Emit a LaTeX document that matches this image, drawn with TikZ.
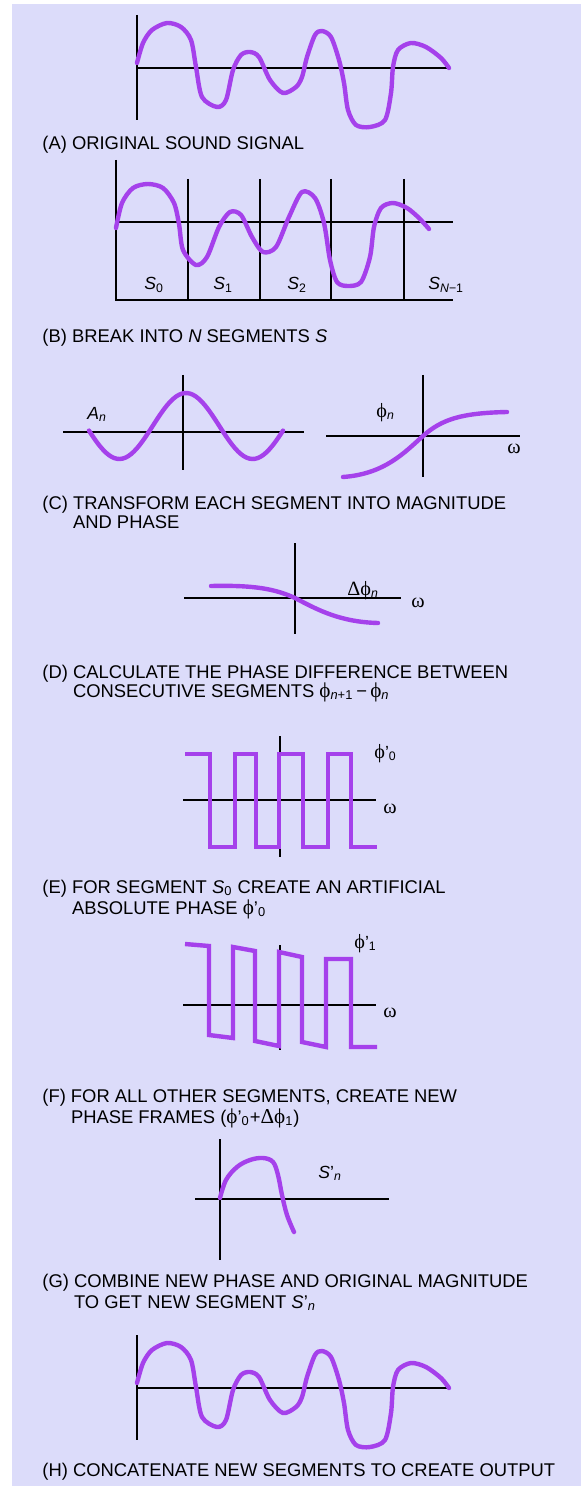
\documentclass[tikz,border=0pt]{standalone}
\usepackage{fontspec}
\setmainfont{Liberation Sans}
\newfontfamily\grk[Scale=1.15]{Liberation Serif}
\definecolor{lavender}{RGB}{220,220,250}
\definecolor{wavepurple}{RGB}{165,65,235}

\begin{document}
\begin{tikzpicture}[x=0.5pt, y=-0.5pt,
  axis/.style={line width=0.8pt, black},
  wave/.style={line width=2.2pt, wavepurple, line cap=round, line join=round},
  sqwave/.style={line width=2.2pt, wavepurple},
  captext/.style={anchor=base west, inner sep=0pt, font=\fontsize{9.2}{11}\selectfont},
  lbl/.style={anchor=base west, inner sep=0pt, font=\fontsize{8.8}{10}\selectfont}]
% background
\fill[white] (0,0) rectangle (581,1486);
\fill[lavender] (12,4) rectangle (581,1486);
\useasboundingbox (0,0) rectangle (581,1486);

% (A) and (H): the same signal
\foreach \dy in {0,1320}{
  \begin{scope}[shift={(0,\dy)}]
    \draw[axis] (137,15) -- (137,120);
    \draw[axis] (137,68) -- (449,68);
    \draw[wave] plot[smooth, tension=0.5] coordinates {(137,63) (143,43) (152,30) (167,23) (181,27) (191,40) (196,67) (202,97) (217,107) (226,100) (233,70) (241,55) (250,52) (259,57) (270,80) (283,93) (296,87) (302,77) (307,57) (315,35) (322,31) (331,37) (339,60) (344,83) (348,110) (356,125) (370,127) (385,120) (391,93) (393,67) (398,50) (411,43) (426,47) (441,58) (449,68)};
  \end{scope}}
\node[captext] (capA) at (42,150) {(A) ORIGINAL SOUND SIGNAL};

% (B) segments
\draw[axis] (116,160) -- (116,300) -- (453,300);
\draw[axis] (116,222) -- (453,222);
\foreach \x in {188,260,331,404} \draw[axis] (\x,179) -- (\x,300);
\draw[wave] plot[smooth, tension=0.5] coordinates {(116,228) (122,203) (133,188) (148,184) (163,188) (174,203) (179,224) (183,250) (196,265) (207,257) (219,227) (230,212) (241,215) (252,237) (263,252) (276,247) (289,217) (302,192) (315,198) (324,223) (330,260) (337,282) (348,286) (361,282) (370,257) (374,227) (381,208) (393,203) (407,208) (419,218) (429,229)};
\node[lbl] (s0) at (144,290) {\textit{S}\textsubscript{0}};
\node[lbl] (s1) at (213,290) {\textit{S}\textsubscript{1}};
\node[lbl] (s2) at (287,290) {\textit{S}\textsubscript{2}};
\node[lbl] (sN) at (428,290) {\textit{S}\textsubscript{\textit{N}−1}};
\node[captext] (capB) at (42,343) {(B) BREAK INTO \textit{N} SEGMENTS \textit{S}};

% (C) magnitude and phase
\draw[axis] (63,432) -- (304,432);
\draw[axis] (183,375) -- (183,470);
\draw[wave] plot[domain=-262:262, samples=70, smooth] ({186+\x/2.7},{426-33*cos(\x)});
\node[lbl] (an) at (87,420) {\textit{A}\textsubscript{\textit{n}}};
\draw[axis] (326,436) -- (520,436);
\draw[axis] (423,375) -- (423,477);
\draw[wave] (343,477) .. controls (385,474) and (405,452) .. (423,436) .. controls (442,419) and (462,413) .. (507,412);
\node[lbl] (phin) at (376,418) {{\grk ϕ}\textsubscript{\textit{n}}};
\node[lbl] (omC) at (507,453) {\grk ω};
\node[captext] (capC) at (42,509) {(C) TRANSFORM EACH SEGMENT INTO MAGNITUDE};
\node[captext] (capC2) at (42,528) {\phantom{(C) }AND PHASE};

% (D) phase difference
\draw[axis] (184,598) -- (401,598);
\draw[axis] (295,543) -- (295,634);
\draw[wave] (211,586) .. controls (255,585) and (275,589) .. (295,598) .. controls (318,610) and (340,622) .. (378,623);
\node[lbl] (dphi) at (347,595) {{\grk Δϕ}\textsubscript{\textit{n}}};
\node[lbl] (omD) at (411,607) {\grk ω};
\node[captext] (capD) at (42,678) {(D) CALCULATE THE PHASE DIFFERENCE BETWEEN};
\node[captext] (capD2) at (42,697) {\phantom{(D) }CONSECUTIVE SEGMENTS {\grk ϕ}\textsubscript{\textit{n}+1}\,−\,{\grk ϕ}\textsubscript{\textit{n}}};

% (E) artificial absolute phase
\draw[axis] (183,800) -- (376,800);
\draw[axis] (280,736) -- (280,857);
\draw[sqwave] (185,754) -| (210,847) -| (235,754) -| (256,847) -| (279,754) -| (303,847) -| (328,754) -| (351,847) -- (377,847);
\node[lbl] (phi0) at (374,758) {{\grk ϕ}’\textsubscript{0}};
\node[lbl] (omE) at (383,813) {\grk ω};
\node[captext] (capE) at (42,893) {(E) FOR SEGMENT \textit{S}\textsubscript{0} CREATE AN ARTIFICIAL};
\node[captext] (capE2) at (42,914) {\phantom{(E) }ABSOLUTE PHASE {\grk ϕ}’\textsubscript{0}};

% (F) new phase frames
\draw[axis] (183,1005) -- (376,1005);
\draw[axis] (280,945) -- (280,1050);
\draw[sqwave] (185,944) -- (209,946) -- (209,1035) -- (233,1038) -- (233,947) -- (255,951) -- (255,1041) -- (279,1046) -- (279,952) -- (302,957) -- (302,1042) -- (326,1047) -- (326,959) -- (351,959) -- (351,1047) -- (377,1047);
\node[lbl] (phi1) at (354,948) {{\grk ϕ}’\textsubscript{1}};
\node[lbl] (omF) at (383,1017) {\grk ω};
\node[captext] (capF) at (42,1102) {(F) FOR ALL OTHER SEGMENTS, CREATE NEW};
\node[captext] (capF2) at (42,1123) {\phantom{(F) }PHASE FRAMES ({\grk ϕ}’\textsubscript{0}+{\grk Δϕ}\textsubscript{1})};

% (G) new segment
\draw[axis] (220,1139) -- (220,1260);
\draw[axis] (195,1199) -- (389,1199);
\draw[wave] plot[smooth, tension=0.6] coordinates {(220,1198) (226,1180) (237,1167) (250,1160) (263,1158) (273,1162) (278,1175) (282,1195) (287,1215) (294,1232)};
\node[lbl] (snew) at (318,1178) {\textit{S}’\textsubscript{\textit{n}}};
\node[captext] (capG) at (42,1287) {(G) COMBINE NEW PHASE AND ORIGINAL MAGNITUDE};
\node[captext] (capG2) at (42,1308) {\phantom{(G) }TO GET NEW SEGMENT \textit{S}’\textsubscript{\textit{n}}};

% (H) output
\node[captext] (capH) at (42,1476) {(H) CONCATENATE NEW SEGMENTS TO CREATE OUTPUT};
\end{tikzpicture}
\end{document}
